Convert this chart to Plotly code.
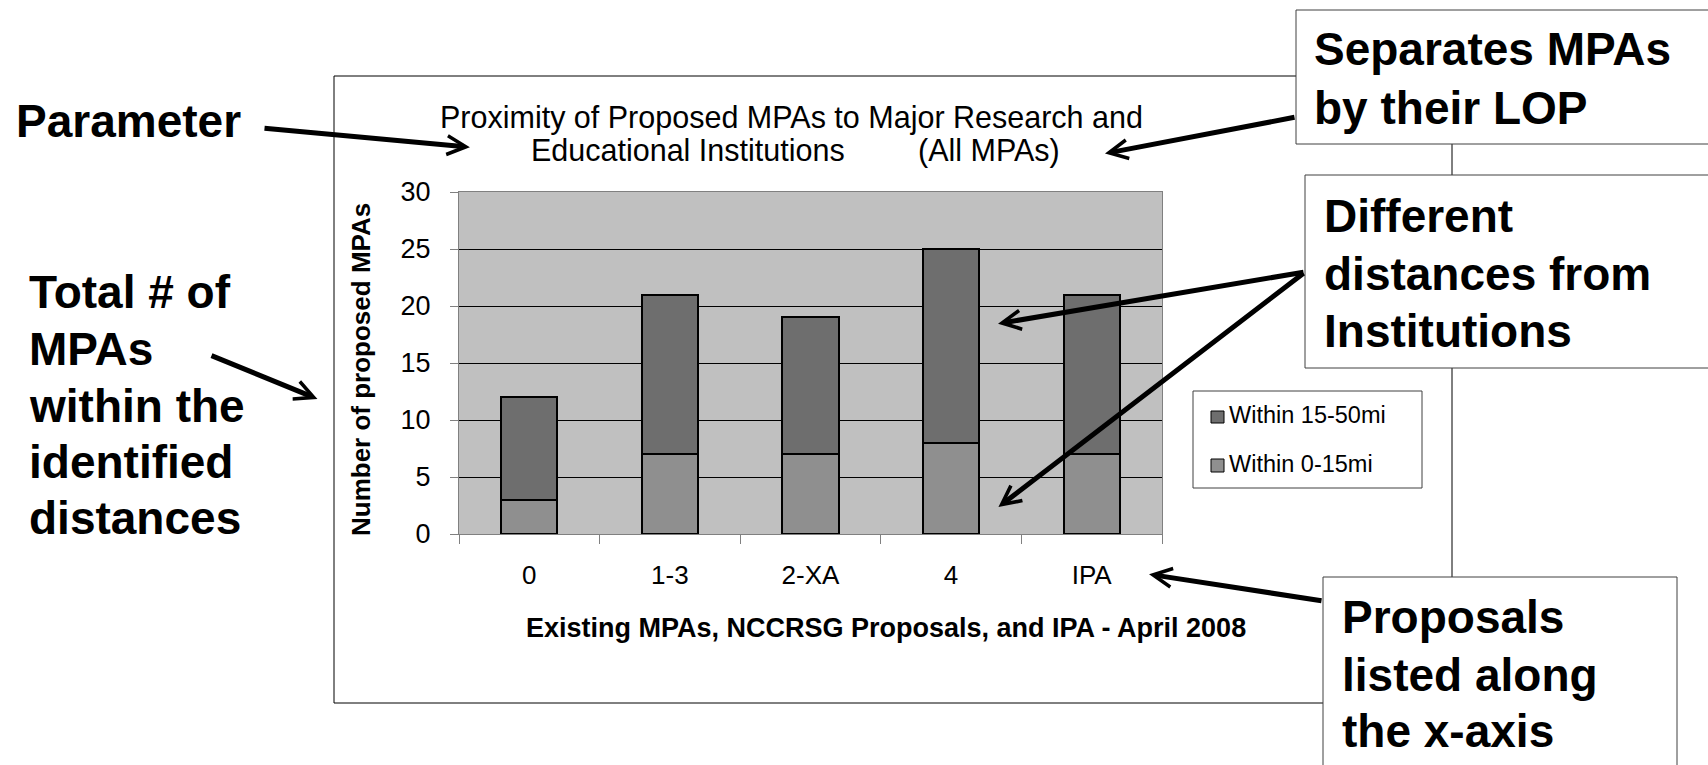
import plotly.graph_objects as go

# ---------------- data ----------------
categories = ["0", "1-3", "2-XA", "4", "IPA"]
within_0_15 = [3, 7, 7, 8, 7]
within_15_50 = [9, 14, 12, 17, 14]
series_names = ["Within 0-15mi", "Within 15-50mi"]
y_ticks = [0, 5, 10, 15, 20, 25, 30]

chart_title_1 = "Proximity of Proposed MPAs to Major Research and"
chart_title_2a = "Educational Institutions"
chart_title_2b = "(All MPAs)"
x_title = "Existing MPAs, NCCRSG Proposals, and IPA - April 2008"
y_title = "Number of proposed MPAs"

left_note_1 = ["Parameter"]
left_note_2 = ["Total # of", "MPAs", "within the", "identified", "distances"]
box_note_1 = ["Separates MPAs", "by their LOP"]
box_note_2 = ["Different", "distances from", "Institutions"]
box_note_3 = ["Proposals", "listed along", "the x-axis"]

# ---------------- styling ----------------
W, H = 1708, 765
L, R, T, B = 459, 1162, 192, 534          # plot area in pixels
FONT = "Liberation Sans, Arial, sans-serif"
DARK = "#6e6e6e"
LIGHT = "#8f8f8f"
PLOT_BG = "#c0c0c0"


def px(x):
    return (x - L) / (R - L)


def py(y):
    return (B - y) / (B - T)


def line_text(txt, x, baseline, size, bold=False, anchor="left"):
    cy = baseline - 0.3465 * size
    return dict(text=f"<b>{txt}</b>" if bold else txt, x=px(x), y=py(cy),
                xref="paper", yref="paper", xanchor=anchor, yanchor="middle",
                showarrow=False, font=dict(family=FONT, size=size, color="black"))


def arrow(tail, head, width=5, size=0.74):
    dx, dy = head[0] - tail[0], head[1] - tail[1]
    d = (dx * dx + dy * dy) ** 0.5
    back = 2.2 * width * size
    hx, hy = head[0] - dx / d * back, head[1] - dy / d * back
    return dict(text="", x=px(hx), y=py(hy), xref="paper", yref="paper",
                ax=tail[0] - hx, ay=tail[1] - hy, axref="pixel", ayref="pixel",
                showarrow=True, arrowhead=5, arrowwidth=width, arrowsize=size,
                arrowcolor="black", font=dict(size=1))


def rect(x0, y0, x1, y1, fill="rgba(0,0,0,0)", color="black", width=1):
    return dict(type="rect", xref="paper", yref="paper", layer="above",
                x0=px(x0), x1=px(x1), y0=py(y1), y1=py(y0),
                fillcolor=fill, line=dict(color=color, width=width))


fig = go.Figure()
fig.add_trace(go.Bar(x=categories, y=within_0_15, name=series_names[0], width=0.4,
                     marker=dict(color=LIGHT, line=dict(color="black", width=2))))
fig.add_trace(go.Bar(x=categories, y=within_15_50, name=series_names[1], width=0.4,
                     marker=dict(color=DARK, line=dict(color="black", width=2))))

shapes = [
    rect(334, 76, 1452, 703),                                   # chart frame
    rect(1296, 10, 1740, 144, fill="white", color="#404040"),    # box 1
    rect(1305, 175, 1740, 368, fill="white", color="#404040"),   # box 2
    rect(1323, 577, 1677, 800, fill="white", color="#404040"),   # box 3
    rect(1193, 391, 1422, 488, fill="white", color="#404040"),   # legend box
    rect(1211, 411, 1224, 423, fill=DARK, color="black"),
    rect(1211, 459, 1224, 472, fill=LIGHT, color="black"),
]

ann = []
BIG = 46
ann.append(line_text(left_note_1[0], 14, 137, BIG, bold=True))
for i, t in enumerate(left_note_2):
    ann.append(line_text(t, 27, [308, 365, 422, 478, 534][i], BIG, bold=True))
for i, t in enumerate(box_note_1):
    ann.append(line_text(t, 1312, [65, 124][i], BIG, bold=True))
for i, t in enumerate(box_note_2):
    ann.append(line_text(t, 1322, [232, 290, 347][i], BIG, bold=True))
for i, t in enumerate(box_note_3):
    ann.append(line_text(t, 1340, [633, 691, 747][i], BIG, bold=True))

# chart title and axis titles
ann.append(line_text(chart_title_1, 791, 128, 30.5, anchor="center"))
ann.append(line_text(chart_title_2a, 688, 161, 30.5, anchor="center"))
ann.append(line_text(chart_title_2b, 989, 161, 30.5, anchor="center"))
ann.append(line_text(x_title, 886, 637, 27, bold=True, anchor="center"))
ann.append(dict(text=f"<b>{y_title}</b>", x=px(361), y=py(370), xref="paper", yref="paper",
                xanchor="center", yanchor="middle", textangle=-90, showarrow=False,
                font=dict(family=FONT, size=26, color="black")))

# legend texts (legend order: far series on top)
ann.append(line_text(series_names[1], 1227, 423, 23.5))
ann.append(line_text(series_names[0], 1227, 472, 23.5))

# arrows
ann.append(arrow((263, 128), (478, 148)))
ann.append(arrow((1296, 117), (1097, 155)))
ann.append(arrow((1305, 272), (990, 325)))
ann.append(arrow((1305, 272), (992, 512)))
ann.append(arrow((210, 355), (325, 402)))
ann.append(arrow((1323, 601), (1141, 573)))

fig.update_layout(
    width=W, height=H, barmode="stack", showlegend=False,
    margin=dict(l=L, r=W - R, t=T, b=H - B, pad=0),
    paper_bgcolor="white", plot_bgcolor=PLOT_BG,
    font=dict(family=FONT, color="black"),
    shapes=shapes, annotations=ann,
    xaxis=dict(type="category", tickson="boundaries", ticks="outside", ticklen=9,
               tickcolor="#808080", showline=True, linecolor="#808080", mirror=True,
               showgrid=False, tickfont=dict(size=26, color="black"), ticklabelstandoff=18),
    yaxis=dict(range=[0, 30], tickvals=y_ticks, showgrid=True, gridcolor="black", gridwidth=1,
               zeroline=False, showline=True, linecolor="#808080", mirror=True,
               ticks="outside", ticklen=8, tickcolor="#808080",
               tickfont=dict(size=27, color="black"), ticklabelstandoff=14),
)

fig.write_html(
    "out.html",
    config={"displayModeBar": False},
    post_script="document.body.style.margin='0';document.body.style.overflow='hidden';",
)
